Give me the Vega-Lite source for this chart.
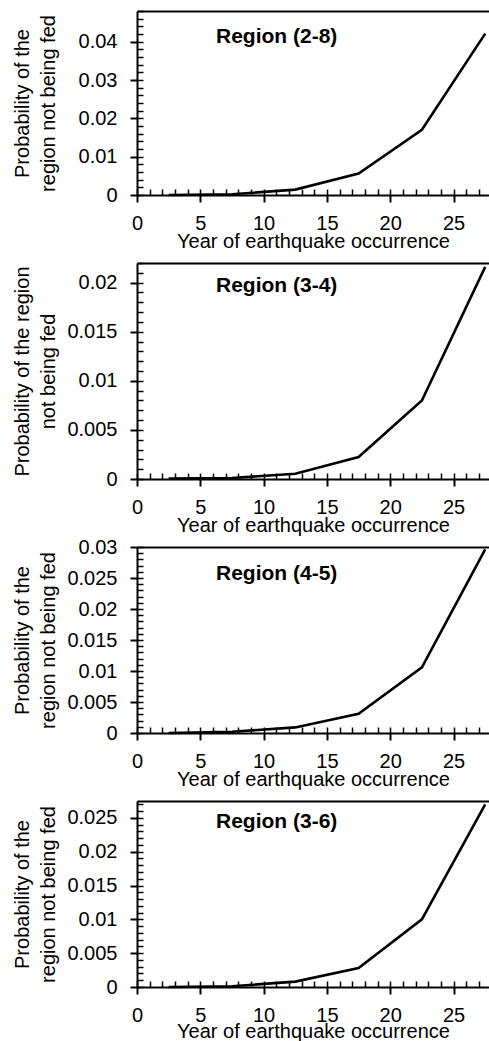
{
  "$schema": "https://vega.github.io/schema/vega-lite/v6.json",
  "padding": {"left": 11, "top": 9, "right": 0, "bottom": 0},
  "background": "white",
  "datasets": {
    "d": [
      {"region": "2-8", "year": 2.5, "p": 0},
      {"region": "2-8", "year": 7.5, "p": 0.0002},
      {"region": "2-8", "year": 12.5, "p": 0.0014},
      {"region": "2-8", "year": 17.5, "p": 0.0056},
      {"region": "2-8", "year": 22.5, "p": 0.017},
      {"region": "2-8", "year": 27.5, "p": 0.0421},
      {"region": "3-4", "year": 2.5, "p": 0.00005},
      {"region": "3-4", "year": 7.5, "p": 0.0001},
      {"region": "3-4", "year": 12.5, "p": 0.00054},
      {"region": "3-4", "year": 17.5, "p": 0.00224},
      {"region": "3-4", "year": 22.5, "p": 0.008},
      {"region": "3-4", "year": 27.5, "p": 0.0216},
      {"region": "4-5", "year": 2.5, "p": 0},
      {"region": "4-5", "year": 7.5, "p": 0.0002},
      {"region": "4-5", "year": 12.5, "p": 0.0009},
      {"region": "4-5", "year": 17.5, "p": 0.0031},
      {"region": "4-5", "year": 22.5, "p": 0.0106},
      {"region": "4-5", "year": 27.5, "p": 0.0296},
      {"region": "3-6", "year": 2.5, "p": 0},
      {"region": "3-6", "year": 7.5, "p": 0.0001},
      {"region": "3-6", "year": 12.5, "p": 0.0008},
      {"region": "3-6", "year": 17.5, "p": 0.0028},
      {"region": "3-6", "year": 22.5, "p": 0.01},
      {"region": "3-6", "year": 27.5, "p": 0.027}
    ]
  },
  "data": {"name": "d"},
  "bounds": "flush",
  "spacing": 68,
  "config": {
    "font": "Liberation Sans",
    "view": {"stroke": "#a6a6a6", "strokeWidth": 1},
    "axis": {"grid": false, "labelFont": "Liberation Sans", "titleFont": "Liberation Sans"}
  },
  "vconcat": [
    {
      "width": 352, "height": 184,
      "title": {"text": "Region (2-8)", "anchor": "start", "frame": "group", "offset": -53.7, "dx": 79, "baseline": "alphabetic", "fontSize": 21, "fontWeight": "bold", "color": "black", "font": "Liberation Sans"},
      "transform": [{"filter": "datum.region === '2-8'"}],
      "layer": [
        {
          "mark": {"type": "line", "color": "black", "strokeWidth": 2.6},
          "encoding": {
            "x": {"field": "year", "type": "quantitative", "scale": {"domain": [0, 27.8], "nice": false},
              "axis": {"orient": "bottom", "values": [0, 5, 10, 15, 20, 25], "tickSize": 7, "tickWidth": 2, "tickColor": "black", "domainColor": "black", "domainWidth": 2, "labelFontSize": 20, "labelColor": "black", "labelPadding": 11, "labelFlush": false, "labelOverlap": false, "title": "Year of earthquake occurrence", "titleFontSize": 20, "titleFontWeight": "normal", "titleColor": "black", "titleBaseline": "alphabetic", "titleY": 52, "titlePadding": 0}},
            "y": {"field": "p", "type": "quantitative", "scale": {"domain": [0, 0.048], "nice": false},
              "axis": {"orient": "left", "values": [0, 0.01, 0.02, 0.03, 0.04], "format": "~g", "tickSize": 7, "tickWidth": 2, "tickColor": "black", "domainColor": "black", "domainWidth": 2, "labelFontSize": 20, "labelColor": "black", "labelPadding": 13, "labelFlush": false, "labelOverlap": false, "title": ["Probability of the", "region not being fed"], "titleFontSize": 20, "titleFontWeight": "normal", "titleColor": "black", "titleBaseline": "alphabetic", "titleAngle": -90, "titleAlign": "center", "titleX": -109, "titleY": 92, "titleLineHeight": 26}}
          }
        },
        {
          "mark": {"type": "line", "opacity": 0},
          "encoding": {
            "x": {"field": "year", "type": "quantitative", "scale": {"domain": [0, 27.8], "nice": false},
              "axis": {"orient": "bottom", "values": [0,1,2,3,4,5,6,7,8,9,10,11,12,13,14,15,16,17,18,19,20,21,22,23,24,25,26,27], "tickSize": -6, "tickWidth": 1.5, "tickColor": "black", "domain": false, "labels": false, "title": null}},
            "y": {"field": "p", "type": "quantitative", "scale": {"domain": [0, 0.048], "nice": false},
              "axis": {"orient": "left", "values": [0,0.002,0.004,0.006,0.008,0.01,0.012,0.014,0.016,0.018,0.02,0.022,0.024,0.026,0.028,0.03,0.032,0.034,0.036,0.038,0.04,0.042,0.044,0.046,0.048], "tickSize": -6, "tickWidth": 1.5, "tickColor": "black", "domain": false, "labels": false, "title": null}}
          }
        },
        {
          "mark": {"type": "line", "opacity": 0},
          "encoding": {
            "x": {"field": "year", "type": "quantitative", "scale": {"domain": [0, 27.8], "nice": false},
              "axis": {"orient": "top", "ticks": false, "labels": false, "domainColor": "black", "domainWidth": 2, "title": null}},
            "y": {"field": "p", "type": "quantitative", "scale": {"domain": [0, 0.048], "nice": false}, "axis": null}
          }
        }
      ],
      "resolve": {"axis": {"x": "independent", "y": "independent"}}
    },
    {
      "width": 352, "height": 216,
      "title": {"text": "Region (3-4)", "anchor": "start", "frame": "group", "offset": -50.8, "dx": 79, "baseline": "alphabetic", "fontSize": 21, "fontWeight": "bold", "color": "black", "font": "Liberation Sans"},
      "transform": [{"filter": "datum.region === '3-4'"}],
      "layer": [
        {
          "mark": {"type": "line", "color": "black", "strokeWidth": 2.6},
          "encoding": {
            "x": {"field": "year", "type": "quantitative", "scale": {"domain": [0, 27.8], "nice": false},
              "axis": {"orient": "bottom", "values": [0, 5, 10, 15, 20, 25], "tickSize": 7, "tickWidth": 2, "tickColor": "black", "domainColor": "black", "domainWidth": 2, "labelFontSize": 20, "labelColor": "black", "labelPadding": 11, "labelFlush": false, "labelOverlap": false, "title": "Year of earthquake occurrence", "titleFontSize": 20, "titleFontWeight": "normal", "titleColor": "black", "titleBaseline": "alphabetic", "titleY": 52, "titlePadding": 0}},
            "y": {"field": "p", "type": "quantitative", "scale": {"domain": [0, 0.022], "nice": false},
              "axis": {"orient": "left", "values": [0, 0.005, 0.01, 0.015, 0.02], "format": "~g", "tickSize": 7, "tickWidth": 2, "tickColor": "black", "domainColor": "black", "domainWidth": 2, "labelFontSize": 20, "labelColor": "black", "labelPadding": 13, "labelFlush": false, "labelOverlap": false, "title": ["Probability of the region", "not being fed"], "titleFontSize": 20, "titleFontWeight": "normal", "titleColor": "black", "titleBaseline": "alphabetic", "titleAngle": -90, "titleAlign": "center", "titleX": -109, "titleY": 108, "titleLineHeight": 26}}
          }
        },
        {
          "mark": {"type": "line", "opacity": 0},
          "encoding": {
            "x": {"field": "year", "type": "quantitative", "scale": {"domain": [0, 27.8], "nice": false},
              "axis": {"orient": "bottom", "values": [0,1,2,3,4,5,6,7,8,9,10,11,12,13,14,15,16,17,18,19,20,21,22,23,24,25,26,27], "tickSize": -6, "tickWidth": 1.5, "tickColor": "black", "domain": false, "labels": false, "title": null}},
            "y": {"field": "p", "type": "quantitative", "scale": {"domain": [0, 0.022], "nice": false},
              "axis": {"orient": "left", "values": [0,0.001,0.002,0.003,0.004,0.005,0.006,0.007,0.008,0.009,0.01,0.011,0.012,0.013,0.014,0.015,0.016,0.017,0.018,0.019,0.02,0.021,0.022], "tickSize": -6, "tickWidth": 1.5, "tickColor": "black", "domain": false, "labels": false, "title": null}}
          }
        },
        {
          "mark": {"type": "line", "opacity": 0},
          "encoding": {
            "x": {"field": "year", "type": "quantitative", "scale": {"domain": [0, 27.8], "nice": false},
              "axis": {"orient": "top", "ticks": false, "labels": false, "domainColor": "black", "domainWidth": 2, "title": null}},
            "y": {"field": "p", "type": "quantitative", "scale": {"domain": [0, 0.022], "nice": false}, "axis": null}
          }
        }
      ],
      "resolve": {"axis": {"x": "independent", "y": "independent"}}
    },
    {
      "width": 352, "height": 186,
      "title": {"text": "Region (4-5)", "anchor": "start", "frame": "group", "offset": -63.6, "dx": 79, "baseline": "alphabetic", "fontSize": 21, "fontWeight": "bold", "color": "black", "font": "Liberation Sans"},
      "transform": [{"filter": "datum.region === '4-5'"}],
      "layer": [
        {
          "mark": {"type": "line", "color": "black", "strokeWidth": 2.6},
          "encoding": {
            "x": {"field": "year", "type": "quantitative", "scale": {"domain": [0, 27.8], "nice": false},
              "axis": {"orient": "bottom", "values": [0, 5, 10, 15, 20, 25], "tickSize": 7, "tickWidth": 2, "tickColor": "black", "domainColor": "black", "domainWidth": 2, "labelFontSize": 20, "labelColor": "black", "labelPadding": 11, "labelFlush": false, "labelOverlap": false, "title": "Year of earthquake occurrence", "titleFontSize": 20, "titleFontWeight": "normal", "titleColor": "black", "titleBaseline": "alphabetic", "titleY": 52, "titlePadding": 0}},
            "y": {"field": "p", "type": "quantitative", "scale": {"domain": [0, 0.03], "nice": false},
              "axis": {"orient": "left", "values": [0, 0.005, 0.01, 0.015, 0.02, 0.025, 0.03], "format": "~g", "tickSize": 7, "tickWidth": 2, "tickColor": "black", "domainColor": "black", "domainWidth": 2, "labelFontSize": 20, "labelColor": "black", "labelPadding": 13, "labelFlush": false, "labelOverlap": false, "title": ["Probability of the", "region not being fed"], "titleFontSize": 20, "titleFontWeight": "normal", "titleColor": "black", "titleBaseline": "alphabetic", "titleAngle": -90, "titleAlign": "center", "titleX": -109, "titleY": 93, "titleLineHeight": 26}}
          }
        },
        {
          "mark": {"type": "line", "opacity": 0},
          "encoding": {
            "x": {"field": "year", "type": "quantitative", "scale": {"domain": [0, 27.8], "nice": false},
              "axis": {"orient": "bottom", "values": [0,1,2,3,4,5,6,7,8,9,10,11,12,13,14,15,16,17,18,19,20,21,22,23,24,25,26,27], "tickSize": -6, "tickWidth": 1.5, "tickColor": "black", "domain": false, "labels": false, "title": null}},
            "y": {"field": "p", "type": "quantitative", "scale": {"domain": [0, 0.03], "nice": false},
              "axis": {"orient": "left", "values": [0,0.001,0.002,0.003,0.004,0.005,0.006,0.007,0.008,0.009,0.01,0.011,0.012,0.013,0.014,0.015,0.016,0.017,0.018,0.019,0.02,0.021,0.022,0.023,0.024,0.025,0.026,0.027,0.028,0.029,0.03], "tickSize": -6, "tickWidth": 1.5, "tickColor": "black", "domain": false, "labels": false, "title": null}}
          }
        },
        {
          "mark": {"type": "line", "opacity": 0},
          "encoding": {
            "x": {"field": "year", "type": "quantitative", "scale": {"domain": [0, 27.8], "nice": false},
              "axis": {"orient": "top", "ticks": false, "labels": false, "domainColor": "black", "domainWidth": 2, "title": null}},
            "y": {"field": "p", "type": "quantitative", "scale": {"domain": [0, 0.03], "nice": false}, "axis": null}
          }
        }
      ],
      "resolve": {"axis": {"x": "independent", "y": "independent"}}
    },
    {
      "width": 352, "height": 186,
      "title": {"text": "Region (3-6)", "anchor": "start", "frame": "group", "offset": -50.2, "dx": 79, "baseline": "alphabetic", "fontSize": 21, "fontWeight": "bold", "color": "black", "font": "Liberation Sans"},
      "transform": [{"filter": "datum.region === '3-6'"}],
      "layer": [
        {
          "mark": {"type": "line", "color": "black", "strokeWidth": 2.6},
          "encoding": {
            "x": {"field": "year", "type": "quantitative", "scale": {"domain": [0, 27.8], "nice": false},
              "axis": {"orient": "bottom", "values": [0, 5, 10, 15, 20, 25], "tickSize": 7, "tickWidth": 2, "tickColor": "black", "domainColor": "black", "domainWidth": 2, "labelFontSize": 20, "labelColor": "black", "labelPadding": 11, "labelFlush": false, "labelOverlap": false, "title": "Year of earthquake occurrence", "titleFontSize": 20, "titleFontWeight": "normal", "titleColor": "black", "titleBaseline": "alphabetic", "titleY": 50, "titlePadding": 0}},
            "y": {"field": "p", "type": "quantitative", "scale": {"domain": [0, 0.0275], "nice": false},
              "axis": {"orient": "left", "values": [0, 0.005, 0.01, 0.015, 0.02, 0.025], "format": "~g", "tickSize": 7, "tickWidth": 2, "tickColor": "black", "domainColor": "black", "domainWidth": 2, "labelFontSize": 20, "labelColor": "black", "labelPadding": 13, "labelFlush": false, "labelOverlap": false, "title": ["Probability of the", "region not being fed"], "titleFontSize": 20, "titleFontWeight": "normal", "titleColor": "black", "titleBaseline": "alphabetic", "titleAngle": -90, "titleAlign": "center", "titleX": -109, "titleY": 93, "titleLineHeight": 26}}
          }
        },
        {
          "mark": {"type": "line", "opacity": 0},
          "encoding": {
            "x": {"field": "year", "type": "quantitative", "scale": {"domain": [0, 27.8], "nice": false},
              "axis": {"orient": "bottom", "values": [0,1,2,3,4,5,6,7,8,9,10,11,12,13,14,15,16,17,18,19,20,21,22,23,24,25,26,27], "tickSize": -6, "tickWidth": 1.5, "tickColor": "black", "domain": false, "labels": false, "title": null}},
            "y": {"field": "p", "type": "quantitative", "scale": {"domain": [0, 0.0275], "nice": false},
              "axis": {"orient": "left", "values": [0,0.001,0.002,0.003,0.004,0.005,0.006,0.007,0.008,0.009,0.01,0.011,0.012,0.013,0.014,0.015,0.016,0.017,0.018,0.019,0.02,0.021,0.022,0.023,0.024,0.025,0.026,0.027], "tickSize": -6, "tickWidth": 1.5, "tickColor": "black", "domain": false, "labels": false, "title": null}}
          }
        },
        {
          "mark": {"type": "line", "opacity": 0},
          "encoding": {
            "x": {"field": "year", "type": "quantitative", "scale": {"domain": [0, 27.8], "nice": false},
              "axis": {"orient": "top", "ticks": false, "labels": false, "domainColor": "black", "domainWidth": 2, "title": null}},
            "y": {"field": "p", "type": "quantitative", "scale": {"domain": [0, 0.0275], "nice": false}, "axis": null}
          }
        }
      ],
      "resolve": {"axis": {"x": "independent", "y": "independent"}}
    }
  ]
}
